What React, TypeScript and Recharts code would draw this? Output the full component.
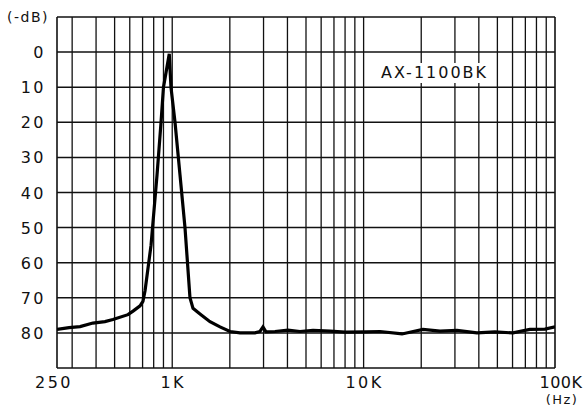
import React from 'react';
import { LineChart, Line, XAxis, YAxis, ReferenceLine } from 'recharts';

// spectrum (Hz, -dB)
const freqs = [
  250, 289, 330, 385, 445, 490, 587, 624, 679, 703, 721, 775, 833, 874, 900, 965,
  985, 1034, 1098, 1166, 1238, 1284, 1397, 1575, 1777, 2003, 2260, 2707, 2875,
  2980, 3090, 3443, 4025, 4650, 5440, 6680, 8000, 10300, 12180, 15870, 20420,
  25060, 30760, 39100, 48500, 60300, 73900, 88600, 100000,
];
const levels = [
  79.0, 78.5, 78.2, 77.2, 76.8, 76.2, 74.8, 73.8, 72.3, 71, 68, 55, 35, 20, 10, 0.5,
  10, 20, 35, 50, 70, 73, 74.6, 76.8, 78.3, 79.6, 80, 80, 79.6,
  78.3, 79.7, 79.6, 79.2, 79.6, 79.3, 79.5, 79.8, 79.7, 79.6, 80.3, 79,
  79.5, 79.3, 80, 79.7, 80, 79, 78.9, 78.3,
];

const xTicks = [250, 1000, 10000, 100000];
const xTickLabels = ['250', '1K', '10K', '100K'];
const yTicks = [0, 10, 20, 30, 40, 50, 60, 70, 80];
const gridFreqs = [
  300, 400, 500, 600, 700, 800, 900, 1000,
  2000, 3000, 4000, 5000, 6000, 7000, 8000, 9000, 10000,
  20000, 30000, 40000, 50000, 60000, 70000, 80000, 90000,
];

const data = freqs.map((f, i) => ({ f, db: levels[i] }));

const FONT = '"DejaVu Sans", sans-serif';
const INK = '#111';

function XTick(props: any) {
  const { x, y, payload } = props;
  const idx = xTicks.indexOf(payload.value);
  const label = xTickLabels[idx] ?? String(payload.value);
  const isFirst = payload.value === 250;
  const isLast = payload.value === 100000;
  return (
    <g>
      <text
        x={isLast ? x + 6 : isFirst ? x - 3 : x + 1}
        y={y + 12}
        textAnchor="middle"
        fontFamily={FONT}
        fontSize={16}
        letterSpacing={isLast ? 0.5 : 2.5}
        fill={INK}
      >
        {label}
      </text>
      {isLast && (
        <text x={x + 7} y={y + 28} textAnchor="middle" fontFamily={FONT} fontSize={13} letterSpacing={1.5} fill={INK}>
          (Hz)
        </text>
      )}
    </g>
  );
}

function YTick(props: any) {
  const { x, y, payload } = props;
  return (
    <text x={x} y={y + 6} textAnchor="end" fontFamily={FONT} fontSize={16} letterSpacing={2.5} fill={INK}>
      {payload.value}
    </text>
  );
}

export default function App() {
  return (
    <div style={{ position: 'absolute', left: 0, top: 0, width: 587, height: 409, background: '#fff' }}>
      <LineChart width={587} height={409} data={data} margin={{ top: 17, right: 32, bottom: 0, left: 0 }}>
        <XAxis
          dataKey="f"
          type="number"
          scale="log"
          domain={[250, 100000]}
          ticks={xTicks}
          allowDataOverflow
          axisLine={false}
          tickLine={false}
          height={41}
          tick={<XTick />}
        />
        <YAxis
          type="number"
          domain={[-10, 90]}
          reversed
          ticks={yTicks}
          allowDataOverflow
          axisLine={false}
          tickLine={false}
          width={57}
          tickMargin={5}
          tick={<YTick />}
        />
        {gridFreqs.map((f) => (
          <ReferenceLine key={`v${f}`} x={f} stroke={INK} strokeWidth={1.3} />
        ))}
        {yTicks.map((v) => (
          <ReferenceLine key={`h${v}`} y={v} stroke={INK} strokeWidth={1.5} />
        ))}
        <ReferenceLine x={250} stroke={INK} strokeWidth={1.6} />
        <ReferenceLine x={100000} stroke={INK} strokeWidth={1.6} />
        <ReferenceLine y={-10} stroke={INK} strokeWidth={1.6} />
        <ReferenceLine y={90} stroke={INK} strokeWidth={1.6} />
        <Line
          dataKey="db"
          type="linear"
          stroke="#000"
          strokeWidth={3.2}
          dot={false}
          isAnimationActive={false}
        />
      </LineChart>
      <div style={{ position: 'absolute', left: 7, top: 9, fontFamily: FONT, fontSize: 14, letterSpacing: 1.5, color: INK }}>
        (-dB)
      </div>
      <div
        style={{
          position: 'absolute',
          left: 379,
          top: 63,
          padding: '0 2px',
          background: '#fff',
          fontFamily: FONT,
          fontSize: 16,
          letterSpacing: 2,
          color: INK,
          lineHeight: '20px',
        }}
      >
        AX-1100BK
      </div>
    </div>
  );
}
